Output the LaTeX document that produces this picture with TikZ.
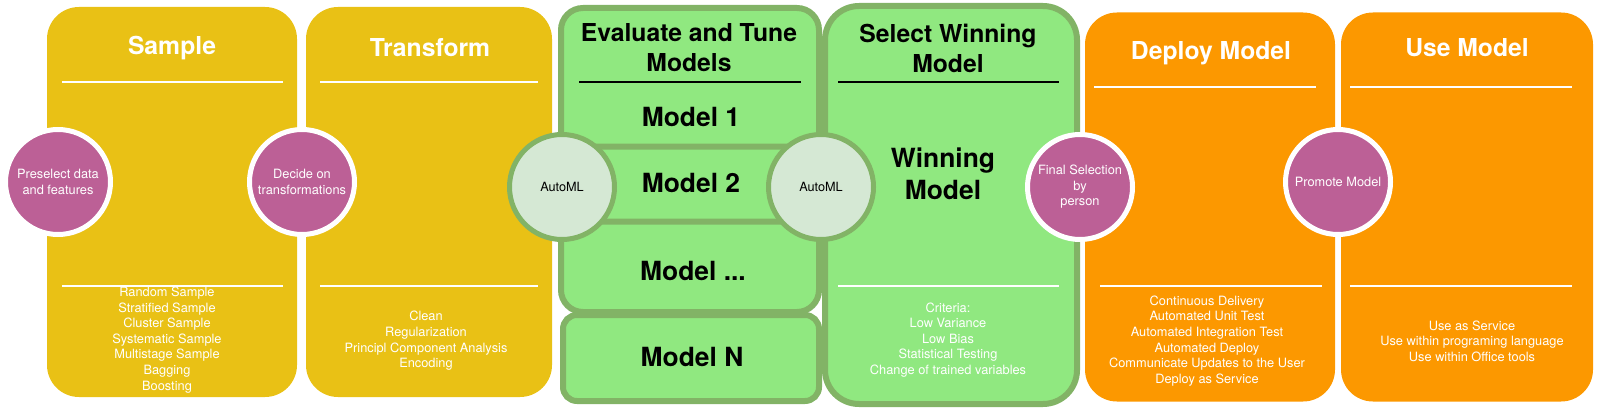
\documentclass[tikz,border=0pt]{standalone}
\usepackage{fontspec}
\setmainfont{TeX Gyre Heros}
\usepackage{xcolor}
\usepackage{tikz}

\definecolor{phaseyellow}{RGB}{233,193,21}
\definecolor{phaseorange}{RGB}{252,152,0}
\definecolor{phasegreen}{RGB}{144,232,128}
\definecolor{bordergreen}{RGB}{130,179,102}
\definecolor{actionpurple}{RGB}{188,96,150}
\definecolor{automlfill}{RGB}{213,232,212}

\tikzset{
  phase/.style={rectangle, rounded corners=32pt, inner sep=0pt},
  greenbox/.style={rectangle, draw=bordergreen, line width=6pt,
    fill=phasegreen, inner sep=0pt},
  action/.style={circle, draw=white, line width=5pt, fill=actionpurple,
    minimum size=105pt, inner sep=0pt, align=center, text=white,
    font=\fontsize{12.8}{15.6}\selectfont},
  automl/.style={circle, draw=bordergreen, line width=5pt, fill=automlfill,
    minimum size=105pt, inner sep=0pt, font=\fontsize{12.7}{15}\selectfont},
  phasetitle/.style={align=center, font=\bfseries\fontsize{24.7}{30}\selectfont},
  modeltext/.style={align=center, font=\bfseries\fontsize{26.4}{31.7}\selectfont},
  itemlist/.style={align=center, text=white, font=\fontsize{12.8}{15.6}\selectfont},
  sepline/.style={line width=2pt}
}

\begin{document}
\begin{tikzpicture}[x=1pt,y=-1pt]
\useasboundingbox (0,0) rectangle (1600,409);

% Phase boxes
\node[phase, fill=phaseyellow, minimum width=250pt, minimum height=390pt]
  (sample) at (172,202) {};
\node[phase, fill=phaseyellow, minimum width=246pt, minimum height=390pt]
  (transform) at (429,202) {};
\node[phase, fill=phaseorange, minimum width=250pt, minimum height=389pt]
  (deploy) at (1210,207) {};
\node[phase, fill=phaseorange, minimum width=252pt, minimum height=389pt]
  (usemodel) at (1467,207) {};

% Green boxes
\node[greenbox, rounded corners=22pt, minimum width=258pt, minimum height=304pt]
  (evaluate) at (690,160) {};
\node[greenbox, rounded corners=8pt, minimum width=258pt, minimum height=75pt]
  (modeltwo) at (690,184) {};
\node[greenbox, rounded corners=14pt, minimum width=256pt, minimum height=86pt]
  (modelN) at (691,358) {};
\node[greenbox, rounded corners=34pt, minimum width=252pt, minimum height=398pt]
  (select) at (951,205) {};

% Separator lines
\draw[sepline, white] (62,82) -- (283,82);
\draw[sepline, white] (62,286) -- (283,286);
\draw[sepline, white] (320,82) -- (538,82);
\draw[sepline, white] (320,286) -- (538,286);
\draw[sepline, black] (579,82) -- (801,82);
\draw[sepline, black] (838,82) -- (1059,82);
\draw[sepline, white] (838,286) -- (1059,286);
\draw[sepline, white] (1094,87) -- (1316,87);
\draw[sepline, white] (1100,286) -- (1322,286);
\draw[sepline, white] (1350,87) -- (1572,87);
\draw[sepline, white] (1350,286) -- (1572,286);

% Titles
\node[phasetitle, text=white] (sampletitle) at (172,48) {Sample};
\node[phasetitle, text=white] (transformtitle) at (430,48) {Transform};
\node[phasetitle] (evaluatetitle) at (689,48) {Evaluate and Tune\\Models};
\node[phasetitle] (selecttitle) at (948,48) {Select Winning\\Model};
\node[phasetitle, text=white] (deploytitle) at (1211,53) {Deploy Model};
\node[phasetitle, text=white] (usetitle) at (1467,48) {Use Model};

% Models
\node[modeltext] (modelonelabel) at (691,117) {Model 1};
\node[modeltext] (modeltwolabel) at (691,183) {Model 2};
\node[modeltext] (modeldotslabel) at (693,271) {Model ...};
\node[modeltext] (modelNlabel) at (692,357) {Model N};
\node[modeltext] (winning) at (943,174) {Winning\\Model};

% Lists
\node[itemlist] (samplelist) at (167,340)
  {Random Sample\\Stratified Sample\\Cluster Sample\\Systematic Sample\\
   Multistage Sample\\Bagging\\Boosting};
\node[itemlist] (transformlist) at (426,341)
  {Clean\\Regularization\\Principl Component Analysis\\Encoding};
\node[itemlist] (criteria) at (948,340)
  {Criteria:\\Low Variance\\Low Bias\\Statistical Testing\\
   Change of trained variables};
\node[itemlist] (deploylist) at (1207,341)
  {Continuous Delivery\\Automated Unit Test\\Automated Integration Test\\
   Automated Deploy\\Communicate Updates to the User\\Deploy as Service};
\node[itemlist] (uselist) at (1472,341)
  {Use as Service\\Use within programing language\\Use within Office tools};

% Circles between phases
\node[action] (preselect) at (58,182) {Preselect data\\and features};
\node[action] (decide) at (302,182) {Decide on\\transformations};
\node[automl] (automlA) at (562,187) {AutoML};
\node[automl] (automlB) at (821,187) {AutoML};
\node[action] (finalsel) at (1080,187) {Final Selection\\by\\person};
\node[action] (promote) at (1338,182) {Promote Model};

\end{tikzpicture}
\end{document}
